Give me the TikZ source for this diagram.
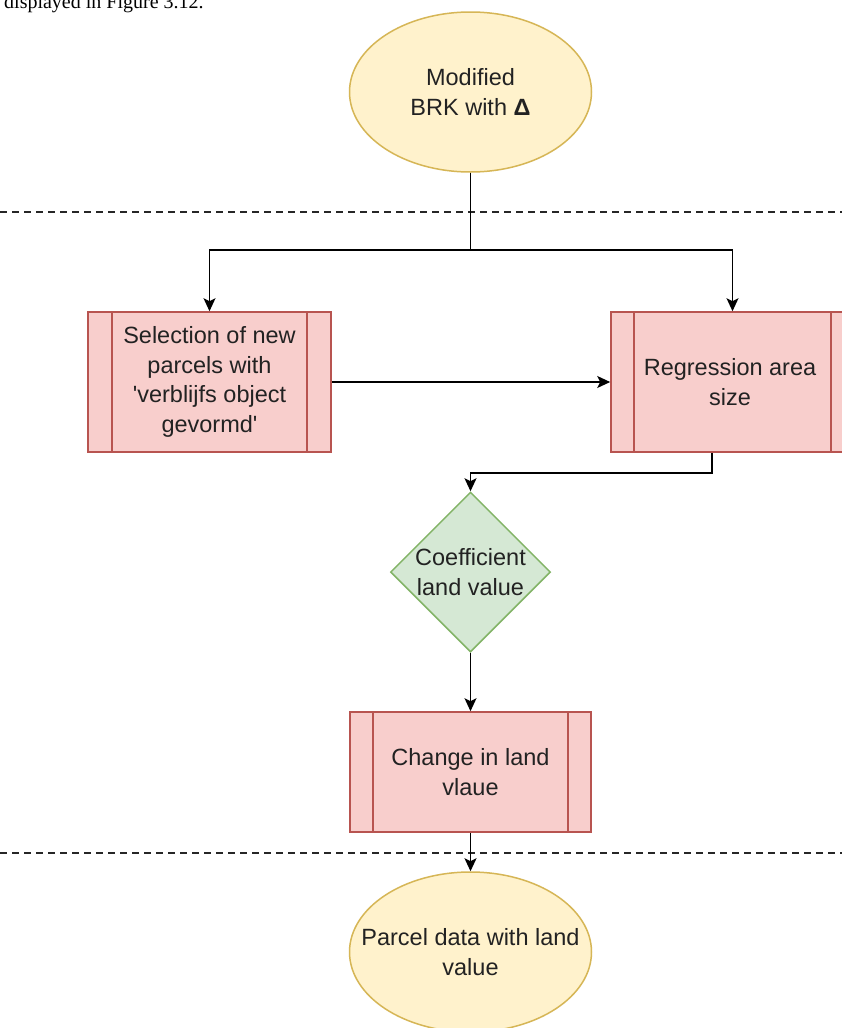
\documentclass[tikz,border=0pt]{standalone}
\usepackage{fontspec}
\setmainfont{Liberation Sans}
\newfontfamily\bodyserif{Liberation Serif}
\usetikzlibrary{shapes.geometric,arrows.meta}

\definecolor{termfill}{HTML}{FFF2CC}
\definecolor{termline}{HTML}{D6B656}
\definecolor{procfill}{HTML}{F8CECC}
\definecolor{procline}{HTML}{B85450}
\definecolor{decfill}{HTML}{D5E8D4}
\definecolor{decline}{HTML}{82B366}
\definecolor{txtcol}{HTML}{222222}

\tikzset{
  label font/.style={font=\fontsize{23.5}{29.5}\selectfont, text=txtcol, align=center},
  terminal/.style={ellipse, draw=termline, fill=termfill, line width=1.5pt,
    minimum width=242, minimum height=160, inner sep=0pt},
  procbox/.style={rectangle, draw=procline, fill=procfill, line width=1.6pt,
    minimum width=243, minimum height=140, inner sep=0pt},
  procedge/.style={draw=procline, line width=1.6pt},
  decision/.style={diamond, draw=decline, fill=decfill, line width=1.5pt,
    minimum width=160, minimum height=160, inner sep=0pt},
  plaintext/.style={label font, inner sep=0pt},
  flow/.style={draw=black, line width=1.6pt},
  arrowflow/.style={flow, -{Stealth[length=13pt, width=12pt, inset=3pt]}},
  divider/.style={draw=black!85, line width=1.4pt, dash pattern=on 7pt off 5pt},
}

\begin{document}
\begin{tikzpicture}[x=1pt, y=-1pt]
  \useasboundingbox (0,0) rectangle (842,1028);
  \clip (0,0) rectangle (842,1028);
  \fill[white] (0,0) rectangle (842,1028);

  % running text above the chart
  \node[anchor=base west, inner sep=0pt, font=\bodyserif\fontsize{20}{24}\selectfont]
    (caption) at (4,8) {displayed in Figure 3.12.};

  % phase dividers
  \coordinate (divAl) at (0,212);
  \coordinate (divAr) at (842,212);
  \coordinate (divBl) at (0,853);
  \coordinate (divBr) at (842,853);
  \draw[divider] (divAl) -- (divAr);
  \draw[divider] (divBl) -- (divBr);

  % shapes
  \node[terminal] (start) at (470.5,92) {};
  \node[plaintext] (starttxt) at (start.center) {Modified\\BRK with \textbf{Δ}};

  \node[procbox] (sel) at (209.5,382) {};
  \draw[procedge] ([xshift=25pt]sel.north west) -- ([xshift=25pt]sel.south west);
  \draw[procedge] ([xshift=-25pt]sel.north east) -- ([xshift=-25pt]sel.south east);
  \node[plaintext] (seltxt) at (sel.center)
    {Selection of new\\parcels with\\\textquotesingle verblijfs object\\gevormd\textquotesingle};

  \node[procbox] (reg) at (732.5,382) {};
  \draw[procedge] ([xshift=24pt]reg.north west) -- ([xshift=24pt]reg.south west);
  \draw[procedge] ([xshift=-24pt]reg.north east) -- ([xshift=-24pt]reg.south east);
  \node[plaintext] (regtxt) at (730,382) {Regression area\\size};

  \node[decision] (coef) at (470.5,572) {};
  \node[plaintext] (coeftxt) at (coef.center) {Coefficient\\land value};

  \node[procbox, minimum width=241, minimum height=120] (chg) at (470.5,772) {};
  \draw[procedge] ([xshift=24pt]chg.north west) -- ([xshift=24pt]chg.south west);
  \draw[procedge] ([xshift=-24pt]chg.north east) -- ([xshift=-24pt]chg.south east);
  \node[plaintext] (chgtxt) at (chg.center) {Change in land\\vlaue};

  \node[terminal] (finish) at (470.5,952) {};
  \node[plaintext] (finishtxt) at (finish.center) {Parcel data with land\\value};

  % connectors
  \coordinate (split) at (470.5,250);
  \draw[flow] (start.south) -- (split);
  \draw[arrowflow] (split) -| (sel.north);
  \draw[arrowflow] (split) -| (reg.north);
  \draw[arrowflow] (sel.east) -- (reg.west);
  \draw[arrowflow] ([xshift=-20.5pt]reg.south) -- ++(0,20) -| (coef.north);
  \draw[arrowflow] (coef.south) -- (chg.north);
  \draw[arrowflow] (chg.south) -- (finish.north);
\end{tikzpicture}
\end{document}
